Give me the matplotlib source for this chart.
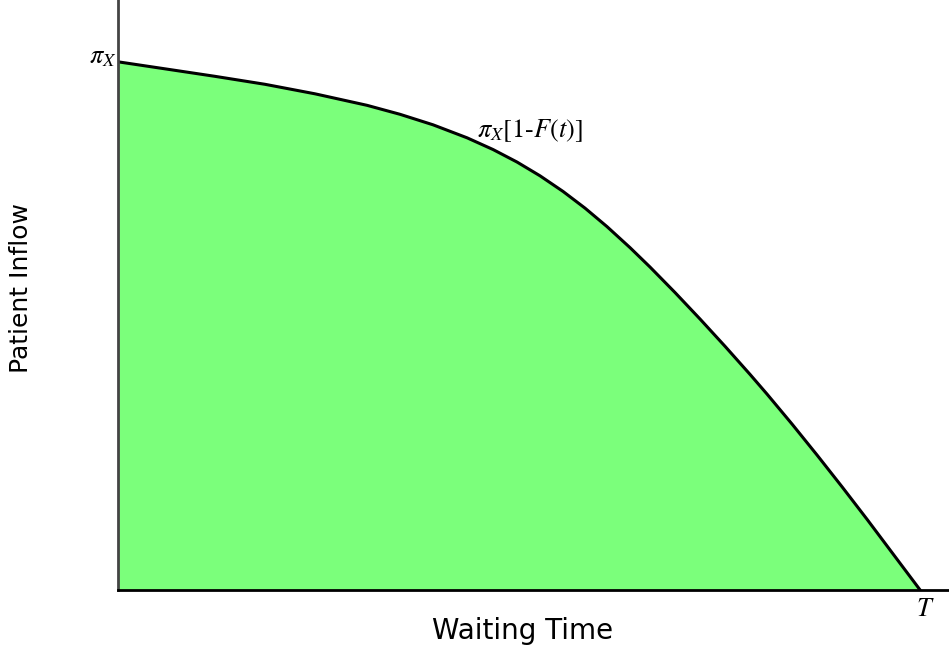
import matplotlib.pyplot as plt

# waiting time (fraction of T) and patient inflow (fraction of pi_X)
waiting_time = [0.0, 0.0586, 0.1209, 0.1833, 0.2456, 0.3105, 0.3516, 0.3928, 0.4352, 0.4676,
                0.4975, 0.5262, 0.5549, 0.5823, 0.6097, 0.6384, 0.6633, 0.6945, 0.7257, 0.7569,
                0.7880, 0.8092, 0.8404, 0.8716, 0.9027, 0.9339, 0.9688, 1.0]
inflow = [1.0, 0.9867, 0.9725, 0.9574, 0.9394, 0.9176, 0.9006, 0.8807, 0.8561, 0.8339,
          0.8102, 0.7841, 0.7545, 0.7229, 0.6879, 0.6481, 0.6114, 0.5631, 0.5129, 0.4612,
          0.4081, 0.3708, 0.3140, 0.2553, 0.1953, 0.1337, 0.0631, 0.0]

plt.rcParams['mathtext.fontset'] = 'stix'

fig = plt.figure(figsize=(9.49, 6.46), dpi=100)
ax = fig.add_axes([0.1243, 0.0867, 0.8757, 0.9133])

ax.fill_between(waiting_time, inflow, 0, color='#7bff7b', linewidth=0)
ax.plot(waiting_time, inflow, color='black', linewidth=2.2,
        solid_joinstyle='round', solid_capstyle='round')

ax.set_xlim(0, 1.036)
ax.set_ylim(0, 1.117)
ax.spines['top'].set_visible(False)
ax.spines['right'].set_visible(False)
ax.spines['left'].set_color('#444444')
ax.spines['left'].set_linewidth(2)
ax.spines['bottom'].set_linewidth(2)
ax.set_xticks([])
ax.set_yticks([])

ax.set_xlabel('Waiting Time', fontsize=20, fontfamily='DejaVu Sans')
ax.set_ylabel('Patient Inflow', fontsize=18, fontfamily='DejaVu Sans')
ax.xaxis.set_label_coords(0.487, -0.045)
ax.yaxis.set_label_coords(-0.102, 0.512)

ax.text(-0.002, 0.985, r'$\pi_X$', fontsize=19, ha='right', va='bottom')
ax.text(0.447, 0.87, r'$\pi_X[1$-$F(t)]$', fontsize=19, fontfamily='STIXGeneral',
        ha='left', va='center')
ax.text(1.006, -0.012, r'$T$', fontsize=19, ha='center', va='top', clip_on=False)

fig.savefig('out.png', dpi=100)
